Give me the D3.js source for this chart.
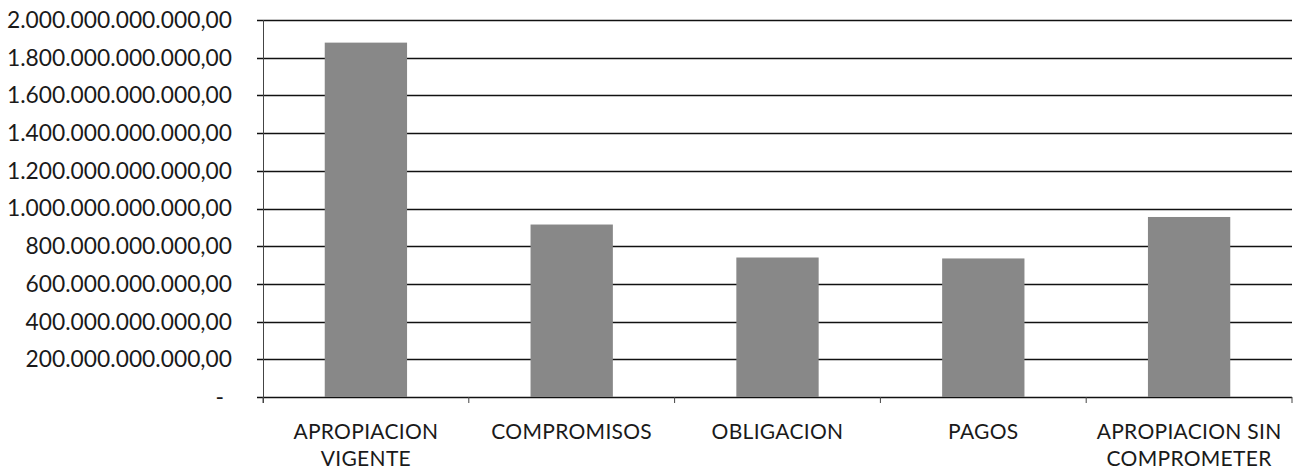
<!DOCTYPE html>
<html lang="es">
<head>
  <meta charset="UTF-8" />
  <title>Ejecucion presupuestal</title>
  <script src="https://d3js.org/d3.v7.min.js"></script>
  <style>
    body {
      margin: 0;
      background: #fff;
      font-family: Lato, "Open Sans", sans-serif;
    }
    svg text {
      fill: #1a1a1a;
    }
  </style>
</head>
<body>
  <svg id="chart" width="1294" height="475"></svg>

  <script>
    // data
    const categories = ["APROPIACION VIGENTE", "COMPROMISOS", "OBLIGACION", "PAGOS", "APROPIACION SIN COMPROMETER"];
    const labelLines = [["APROPIACION", "VIGENTE"], ["COMPROMISOS"], ["OBLIGACION"], ["PAGOS"], ["APROPIACION SIN", "COMPROMETER"]];
    const values = [1880e9, 915e9, 740e9, 735e9, 955e9];
    const yTicks = [0, 200e9, 400e9, 600e9, 800e9, 1000e9, 1200e9, 1400e9, 1600e9, 1800e9, 2000e9];

    const svg = d3.select("#chart");
    const plotLeft = 263, plotRight = 1292, plotTop = 20, plotBottom = 397;

    const x = d3.scaleBand()
      .domain(categories)
      .range([plotLeft, plotRight])
      .paddingInner(0.6)
      .paddingOuter(0.3);

    const y = d3.scaleLinear()
      .domain([0, 2000e9])
      .range([plotBottom, plotTop]);

    const locale = d3.formatLocale({ decimal: ",", thousands: ".", grouping: [3], currency: ["", ""] });
    const fmt = locale.format(",.2f");

    // gridlines (they run a bit past the axis like Excel's tick marks)
    svg.append("g")
      .selectAll("line")
      .data(yTicks)
      .join("line")
      .attr("x1", plotLeft - 6)
      .attr("x2", plotRight)
      .attr("y1", d => Math.round(y(d)) + 0.5)
      .attr("y2", d => Math.round(y(d)) + 0.5)
      .attr("stroke", "#111")
      .attr("stroke-width", 1.4);

    // y axis line
    svg.append("line")
      .attr("x1", plotLeft + 0.5).attr("x2", plotLeft + 0.5)
      .attr("y1", plotTop).attr("y2", plotBottom + 6)
      .attr("stroke", "#444")
      .attr("stroke-width", 1);

    // category boundary ticks
    svg.append("g")
      .selectAll("line")
      .data(d3.range(categories.length + 1))
      .join("line")
      .attr("x1", i => x.range()[0] + i * x.step())
      .attr("x2", i => x.range()[0] + i * x.step())
      .attr("y1", plotBottom)
      .attr("y2", plotBottom + 6)
      .attr("stroke", "#444")
      .attr("stroke-width", 1);

    // bars
    svg.append("g")
      .selectAll("rect")
      .data(values)
      .join("rect")
      .attr("x", (d, i) => x(categories[i]))
      .attr("width", x.bandwidth())
      .attr("y", d => y(d))
      .attr("height", d => y(0) - y(d))
      .attr("fill", "#888");

    // y labels
    svg.append("g")
      .selectAll("text")
      .data(yTicks)
      .join("text")
      .attr("x", d => d === 0 ? 224 : 232)
      .attr("y", d => y(d))
      .attr("dy", "0.35em")
      .attr("text-anchor", "end")
      .attr("font-size", 22.8)
      .text(d => d === 0 ? "-" : fmt(d));

    // x labels
    const xl = svg.append("g")
      .selectAll("text")
      .data(categories)
      .join("text")
      .attr("x", d => x(d) + x.bandwidth() / 2)
      .attr("y", 439)
      .attr("text-anchor", "middle")
      .attr("font-size", 21)
      .attr("letter-spacing", 0.3);

    xl.selectAll("tspan")
      .data((d, i) => labelLines[i])
      .join("tspan")
      .attr("x", function () { return this.parentNode.getAttribute("x"); })
      .attr("dy", (d, j) => j === 0 ? 0 : 27)
      .text(d => d);
  </script>
</body>
</html>
